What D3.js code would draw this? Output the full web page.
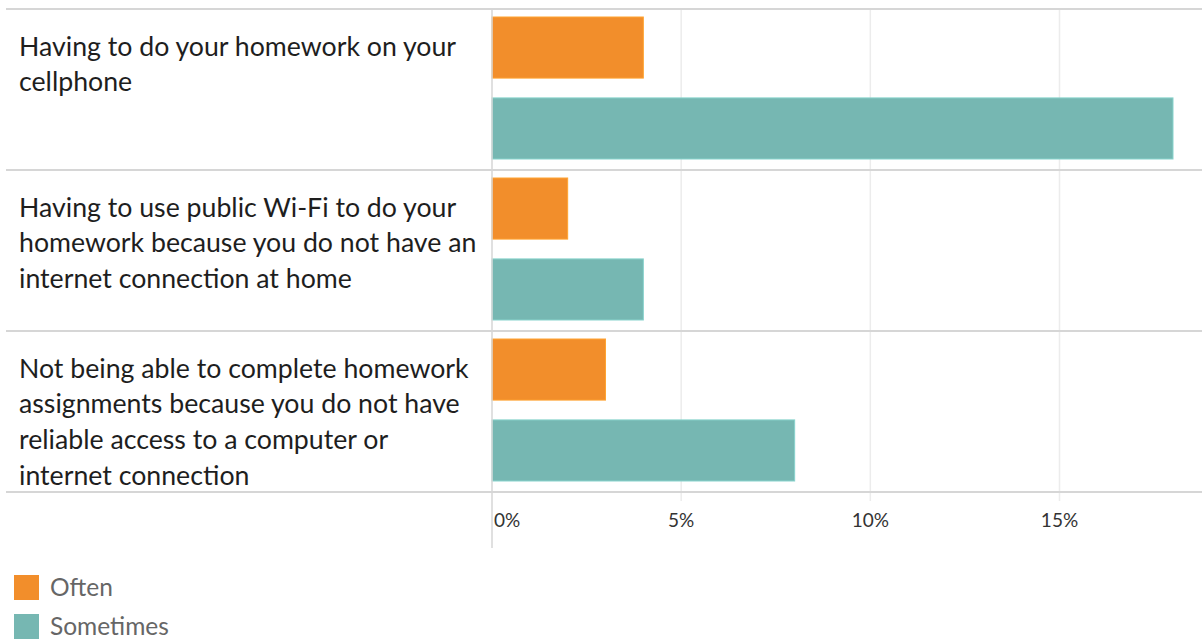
<!DOCTYPE html>
<html>
<head>
<meta charset="utf-8">
<script src="https://cdn.jsdelivr.net/npm/d3@7"></script>
<style>
  body { margin: 0; background: #fff; }
  svg { display: block; font-family: Lato, "Open Sans", sans-serif; }
</style>
</head>
<body>
<div id="chart"></div>
<script>
// data
const categories = [
  ["Having to do your homework on your", "cellphone"],
  ["Having to use public Wi-Fi to do your", "homework because you do not have an", "internet connection at home"],
  ["Not being able to complete homework", "assignments because you do not have", "reliable access to a computer or", "internet connection"]
];
const seriesNames = ["Often", "Sometimes"];
const often = [4, 2, 3];
const sometimes = [18, 4, 8];
const tickValues = [0, 5, 10, 15];

const colors = ["#F28E2B", "#76B7B2"];

const width = 1202, height = 639;
const svg = d3.select("#chart").append("svg")
  .attr("width", width).attr("height", height);

// scales
const x = d3.scaleLinear().domain([0, 18]).range([492, 1173]);
const y = d3.scaleBand().domain(d3.range(categories.length)).range([9, 492]);
const inner = d3.scaleBand().domain(seriesNames)
  .range([8, 150]).paddingInner(0.245);

// gridlines
svg.append("g")
  .selectAll("line")
  .data(tickValues.slice(1))
  .join("line")
  .attr("x1", d => x(d)).attr("x2", d => x(d))
  .attr("y1", 9).attr("y2", 501)
  .attr("stroke", "#ececec").attr("stroke-width", 1.5);

// bars
const values = [often, sometimes];
const rows = svg.append("g").selectAll("g")
  .data(categories)
  .join("g")
  .attr("transform", (d, i) => `translate(0,${y(i)})`);

rows.selectAll("rect")
  .data((d, i) => seriesNames.map((s, j) => ({ s, v: values[j][i], c: colors[j] })))
  .join("rect")
  .attr("x", x(0))
  .attr("y", d => inner(d.s))
  .attr("width", d => x(d.v) - x(0))
  .attr("height", inner.bandwidth())
  .attr("fill", d => d.c)
  .attr("stroke", d => d3.color(d.c).brighter(0.4))
  .attr("stroke-width", 1);

// row labels
rows.append("text")
  .attr("fill", "#1e1e1e")
  .style("font-size", "26.7px")
  .selectAll("tspan")
  .data(d => d)
  .join("tspan")
  .attr("x", 19)
  .attr("y", (d, i) => 46.5 + i * 35.7)
  .text(d => d);

// row separators
svg.append("g")
  .selectAll("line")
  .data(d3.range(categories.length + 1))
  .join("line")
  .attr("x1", 6).attr("x2", width)
  .attr("y1", i => i < categories.length ? y(i) : 492)
  .attr("y2", i => i < categories.length ? y(i) : 492)
  .attr("stroke", "#d6d6d6").attr("stroke-width", 2);

// zero axis line
svg.append("line")
  .attr("x1", x(0)).attr("x2", x(0))
  .attr("y1", 9).attr("y2", 548)
  .attr("stroke", "#d6d6d6").attr("stroke-width", 1.5);

// x axis tick labels
svg.append("g")
  .selectAll("text")
  .data(tickValues)
  .join("text")
  .attr("x", d => d === 0 ? x(d) + 2 : x(d))
  .attr("text-anchor", d => d === 0 ? "start" : "middle")
  .attr("y", 527)
  .attr("fill", "#333")
  .style("font-size", "19px")
  .text(d => d + "%");

// legend
const legend = svg.append("g").selectAll("g")
  .data(seriesNames)
  .join("g")
  .attr("transform", (d, i) => `translate(14,${575 + i * 39})`);
legend.append("rect")
  .attr("width", 25).attr("height", 25)
  .attr("fill", (d, i) => colors[i]);
legend.append("text")
  .attr("x", 36).attr("y", 21)
  .attr("fill", "#666")
  .style("font-size", "24.5px")
  .text(d => d);
</script>
</body>
</html>
